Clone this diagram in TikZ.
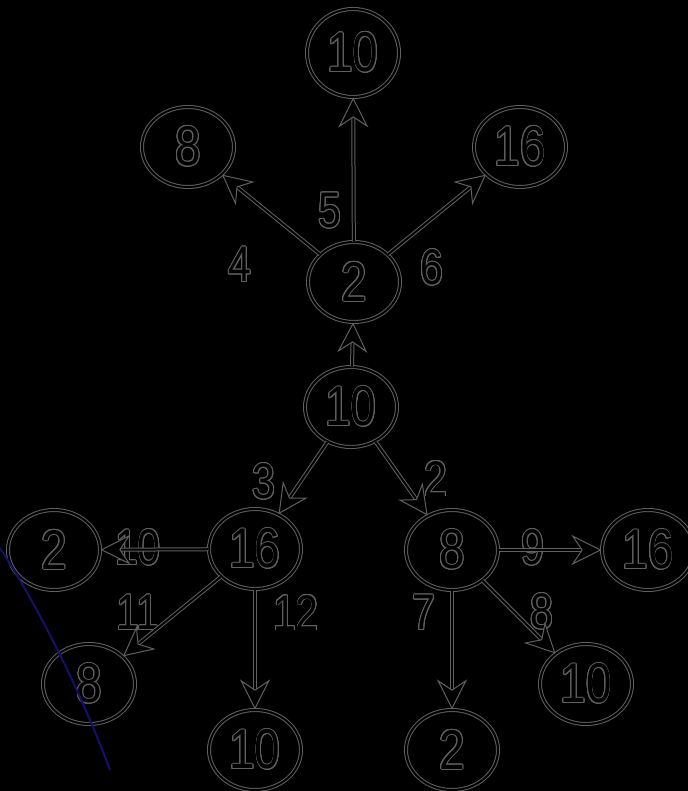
\documentclass[tikz,border=0pt]{standalone}
\usepackage{fontspec}
\setmainfont[FakeStretch=0.82]{Liberation Sans}
\usepackage{tikz}
\usetikzlibrary{arrows.meta,shapes.geometric}
\usepackage{contour}
\contourlength{0.45pt}
\contournumber{16}
\definecolor{edgegray}{RGB}{96,96,96}
\definecolor{inkblue}{RGB}{18,18,105}
\newcommand{\hollow}[1]{\contour{edgegray}{#1}}

\begin{document}
\begin{tikzpicture}[
    x=0.5pt, y=-0.5pt,
    vert/.style={ellipse, draw=edgegray, line width=0.5pt, double=black, double distance=1pt,
                 minimum width=46pt, minimum height=40pt, inner sep=0pt,
                 text=black, font=\fontsize{28}{28}\selectfont},
    weight/.style={text=black, inner sep=1pt, font=\fontsize{25}{25}\selectfont},
    arrow/.style={-{Stealth[length=15pt, width=15pt, inset=5pt, fill=black]},
                  draw=edgegray, line width=0.5pt, double=black, double distance=1pt}
]
\fill[black] (0,0) rectangle (688,791);
\useasboundingbox (0,0) rectangle (688,791);
\node[vert] (root) at (351,407) {\hollow{10}};
\node[vert] (mid) at (354,282) {\hollow{2}};
\node[vert, minimum height=44pt] (top) at (353,53) {\hollow{10}};
\node[vert] (tl) at (188,147) {\hollow{8}};
\node[vert] (tr) at (520,147) {\hollow{16}};
\node[vert] (l) at (255,549) {\hollow{16}};
\node[vert] (r) at (452,550) {\hollow{8}};
\node[vert] (ll) at (54,550) {\hollow{2}};
\node[vert] (lb) at (89,684) {\hollow{8}};
\node[vert] (lm) at (255,750) {\hollow{10}};
\node[vert] (rr) at (648,550) {\hollow{16}};
\node[vert] (rb) at (586,684) {\hollow{10}};
\node[vert] (rm) at (452,750) {\hollow{2}};
% edge weights
\node[weight] (w5) at (330,211) {\hollow{5}};
\node[weight] (w4) at (240,265) {\hollow{4}};
\node[weight] (w6) at (432,268) {\hollow{6}};
\node[weight] (w3) at (264,482) {\hollow{3}};
\node[weight] (w2) at (436,479) {\hollow{2}};
\node[weight] (w10) at (138,548) {\hollow{10}};
\node[weight] (w11) at (138,613) {\hollow{11}};
\node[weight] (w12) at (296,613) {\hollow{12}};
\node[weight] (w7) at (424,613) {\hollow{7}};
\node[weight] (w9) at (533,548) {\hollow{9}};
\node[weight] (w8) at (542,612) {\hollow{8}};
\draw[arrow] (root) -- (mid);
\draw[arrow] (mid) -- (top);
\draw[arrow] (mid) -- (tl);
\draw[arrow] (mid) -- (tr);
\draw[arrow] (root) -- (l);
\draw[arrow] (root) -- (r);
\draw[arrow] (l) -- (ll);
\draw[arrow] (l) -- (lb);
\draw[arrow] (l) -- (lm);
\draw[arrow] (r) -- (rr);
\draw[arrow] (r) -- (rb);
\draw[arrow] (r) -- (rm);
\draw[inkblue, line width=1pt] (0,548) .. controls (40,610) and (80,690) .. (110,770);
\end{tikzpicture}
\end{document}
